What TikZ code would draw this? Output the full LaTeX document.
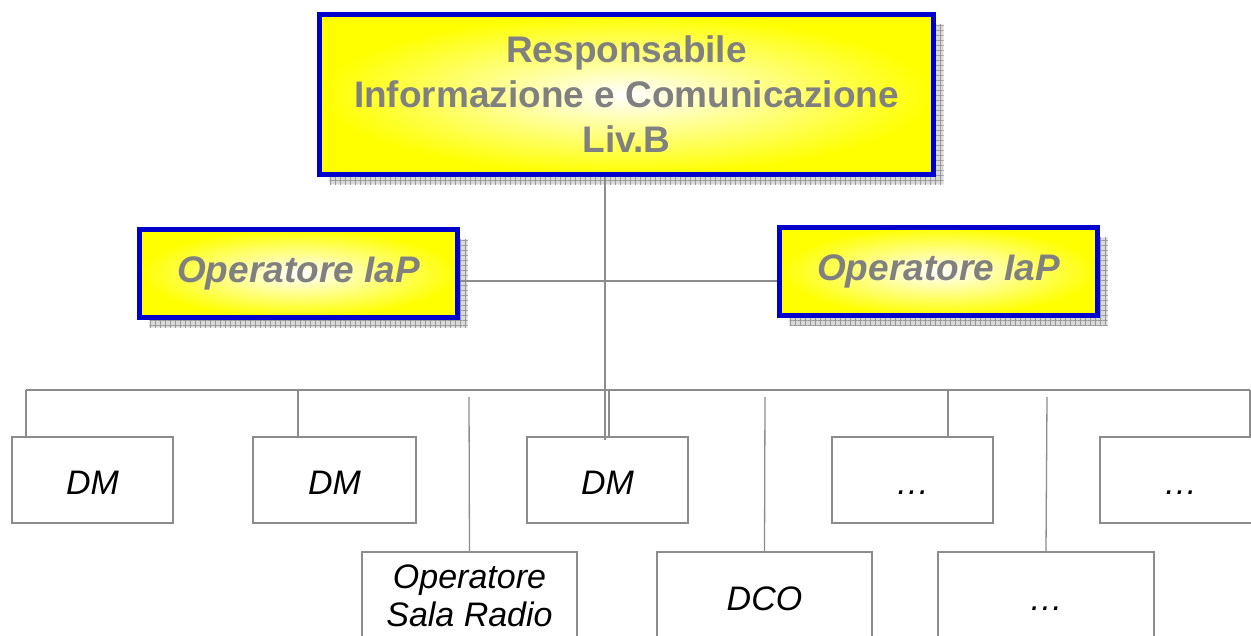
\documentclass[tikz,border=0pt]{standalone}
\usepackage{fontspec}
\setmainfont{Liberation Sans}
\usetikzlibrary{shadows,patterns.meta}
\definecolor{bordblue}{RGB}{0,0,204}
\definecolor{txtgray}{RGB}{128,128,128}
\definecolor{linegray}{RGB}{140,140,140}
\tikzset{
  gridshadow/.style={
    general shadow={shadow xshift=10pt, shadow yshift=-10pt, fill=gray!30, draw=gray!15, line width=1pt},
    general shadow={shadow xshift=10pt, shadow yshift=-10pt, pattern={Hatch[angle=0,distance=5pt,line width=0.9pt]}, pattern color=gray!80, draw=none}},
  yellowbox/.style={gridshadow, draw=bordblue, line width=5pt, inner color=white, outer color=yellow,
    text=txtgray, font=\bfseries, align=center, inner sep=0pt},
  orgbox/.style={draw=linegray, line width=1.5pt, fill=white, align=center, font=\itshape\fontsize{34}{38}\selectfont, inner sep=0pt,
    minimum width=161pt, minimum height=86pt},
  oneline/.style={text height=30pt, text depth=2pt},
  lowbox/.style={orgbox, minimum width=215pt, minimum height=88pt},
  conn/.style={draw=linegray, line width=2pt},
  thinconn/.style={draw=linegray, line width=1.3pt}
}
\begin{document}
\begin{tikzpicture}[x=1pt,y=-1pt]
\useasboundingbox (0,0) rectangle (1251,635);
\coordinate (trunkbot) at (605,440);
\coordinate (iapy) at (605,281);
\coordinate (busL) at (26,390);
\coordinate (busR) at (1250,390);
\coordinate (s1) at (469,397);
\coordinate (s2) at (765,397);
\coordinate (s3) at (1047,397);

\node[yellowbox, minimum width=614pt, minimum height=160pt, font=\bfseries\fontsize{37}{45}\selectfont] (top) at (626.5,94.5)
  {Responsabile\\Informazione e Comunicazione\\Liv.B};
\node[yellowbox, minimum width=318pt, minimum height=88pt, font=\bfseries\itshape\fontsize{37}{44}\selectfont] (iapL) at (298.5,273.5) {Operatore IaP};
\node[yellowbox, minimum width=318pt, minimum height=88pt, font=\bfseries\itshape\fontsize{37}{44}\selectfont] (iapR) at (938.5,271.5) {Operatore IaP};

\node[orgbox, oneline] (dm1) at (92.5,480) {DM};
\node[orgbox, oneline, minimum width=163pt] (dm2) at (334.5,480) {DM};
\node[orgbox, oneline] (dm3) at (607.5,480) {DM};
\node[orgbox, oneline] (e1) at (912.5,480) {…};
\node[orgbox, oneline] (e2) at (1180.5,480) {…};

\node[lowbox] (osr) at (469.5,596) {Operatore\\Sala Radio};
\node[lowbox, oneline] (dco) at (764.5,596) {DCO};
\node[lowbox, oneline, minimum width=216pt] (e3) at (1046,596) {…};

\draw[conn] (iapL.east |- iapy) -- (iapR.west |- iapy);
\draw[conn] (top.south -| trunkbot) -- (trunkbot);
\draw[conn] (busL) -- (busR);
\draw[conn] (busL) -- (busL |- dm1.north);
\draw[conn] (dm2.north -| 298,0) -- (298,390);
\draw[conn] (609,390) -- (609,437);
\draw[conn] (948,390) -- (e1.north -| 948,0);
\draw[conn] (busR) -- (e2.north -| busR);

\draw[thinconn] (s1) -- (osr.north);
\draw[thinconn] (s2) -- (dco.north);
\draw[thinconn] (s3) -- (e3.north);
\end{tikzpicture}
\end{document}
